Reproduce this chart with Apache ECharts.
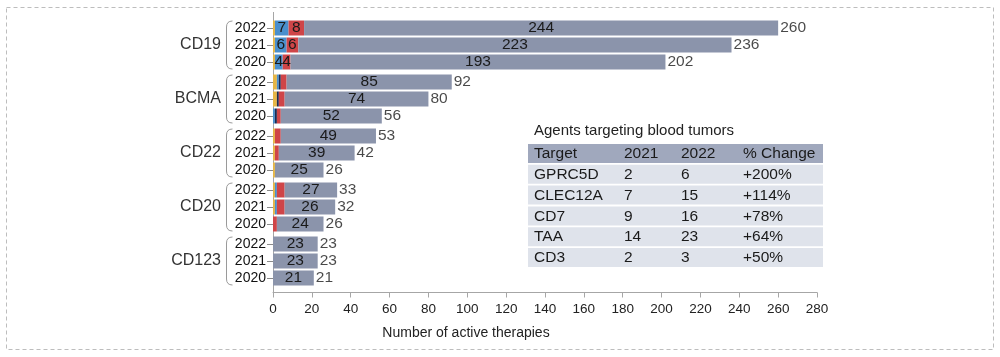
<!DOCTYPE html>
<html><head><meta charset="utf-8">
<script src="https://cdn.jsdelivr.net/npm/echarts@6/dist/echarts.min.js"></script>
<style>html,body{margin:0;padding:0;background:#fff}#c{width:1000px;height:357px}</style>
</head><body><div id="c"></div>
<script>
const groups = ['CD19','BCMA','CD22','CD20','CD123'];
const years = ['2022','2021','2020'];
const yellowVals = [[1,1,1],[2,2,0],[1,1,1],[1,1,0],[0,0,0]];
const blueVals   = [[7,6,4],[1,0,1],[0,0,0],[1,1,0],[0,0,0]];
const navyVals   = [[0,0,0],[1,1,1],[0,0,0],[0,0,0],[0,0,0]];
const redVals    = [[8,6,4],[3,3,2],[3,2,0],[4,4,2],[0,0,0]];
const grayVals   = [[244,223,193],[85,74,52],[49,39,25],[27,26,24],[23,23,21]];
const totals     = [[260,236,202],[92,80,56],[53,42,26],[33,32,26],[23,23,21]];
const xTicks = {min:0, max:280, interval:20};
const axisTitle = 'Number of active therapies';
const labelledGroup = 'CD19';

const tableTitle = 'Agents targeting blood tumors';
const tableHeader = ['Target','2021','2022','% Change'];
const tableTargets = ['GPRC5D','CLEC12A','CD7','TAA','CD3'];
const table2021 = [2,7,9,14,2];
const table2022 = [6,15,16,23,3];
const tableChange = ['+200%','+114%','+78%','+64%','+50%'];

const FONT = '"Liberation Sans", Arial, sans-serif';
const colors = {yellow:'#e6b646', blue:'#4a8fcc', navy:'#1c2b52', red:'#cf4548', gray:'#8b94ab'};
const chart = echarts.init(document.getElementById('c'), null, {renderer:'canvas'});

const gridTop0 = 19.5, gridPitch = 54, gridH = 51, gridLeft = 273, gridRight = 183;
const grids = [], xAxes = [], yAxes = [], series = [];
groups.forEach((g, gi) => {
  grids.push({left: gridLeft, right: gridRight, top: gridTop0 + gi*gridPitch, height: gridH});
  const last = gi === groups.length - 1;
  xAxes.push({type:'value', gridIndex: gi, min: xTicks.min, max: xTicks.max, interval: xTicks.interval,
    show: last, offset: 6,
    axisLine:{show:true, lineStyle:{color:'#a6a6a6', width:1}},
    axisTick:{show:true, length:5, lineStyle:{color:'#a6a6a6'}},
    axisLabel:{color:'#222', fontSize:13.5, fontFamily:FONT, margin:10},
    splitLine:{show:false}});
  yAxes.push({type:'category', gridIndex: gi, data: years, inverse: true,
    axisLine:{show:false},
    axisTick:{show:true, alignWithLabel:true, length:6, lineStyle:{color:'#8a8a8a'}},
    axisLabel:{color:'#111', fontSize:14, fontFamily:FONT, margin:7, interval:0}});
  const isLab = g === labelledGroup;
  const mk = (name, vals, color, showLbl) => ({
    type:'bar', name, stack:'s'+gi, xAxisIndex:gi, yAxisIndex:gi,
    data: vals[gi], barWidth: 15, itemStyle:{color},
    label:{show:true, position:'inside', color:'#1a1a1a', fontSize:15.5, fontFamily:FONT,
      formatter: p => (showLbl(p.value) ? String(p.value) : '')},
    silent:true, animation:false
  });
  series.push(mk('yellow', yellowVals, colors.yellow, v => false));
  series.push(mk('blue', blueVals, colors.blue, v => isLab && v > 0));
  series.push(mk('navy', navyVals, colors.navy, v => false));
  series.push(mk('red', redVals, colors.red, v => isLab && v > 0));
  series.push(mk('gray', grayVals, colors.gray, v => v > 0));
  series.push({type:'scatter', xAxisIndex:gi, yAxisIndex:gi, symbolSize:0,
    data: totals[gi].map((t, i) => [t, years[i]]),
    label:{show:true, position:'right', distance:2, color:'#1a1a1a', fontSize:15.5, fontFamily:FONT,
      formatter: p => String(p.value[0])}, silent:true, animation:false});
});

chart.setOption({
  animation:false,
  textStyle:{fontFamily:FONT},
  grid: grids, xAxis: xAxes, yAxis: yAxes, series
});

// decorations
const gfx = [];
gfx.push({type:'rect', shape:{x:6.5, y:7.5, width:987, height:342},
  style:{fill:null, stroke:'#bdbdbd', lineWidth:1, lineDash:[4,3]}, silent:true});
const topPix = chart.convertToPixel({xAxisIndex:0, yAxisIndex:0}, [0, years[0]]);
const botPix = chart.convertToPixel({xAxisIndex:groups.length-1, yAxisIndex:groups.length-1}, [0, years[2]]);
const x0 = topPix[0];
gfx.push({type:'line', shape:{x1:x0+0.5, y1:12, x2:x0+0.5, y2:botPix[1]+14}, style:{stroke:'#a6a6a6', lineWidth:1}, silent:true});
groups.forEach((g, gi) => {
  const a = chart.convertToPixel({xAxisIndex:gi, yAxisIndex:gi}, [0, years[0]]);
  const b = chart.convertToPixel({xAxisIndex:gi, yAxisIndex:gi}, [0, years[2]]);
  const yt = a[1]-7, yb = b[1]+7, bx = 226.5, bw = 6;
  const st = {stroke:'#9a9a9a', lineWidth:1, fill:null};
  gfx.push({type:'bezierCurve', silent:true, shape:{x1:bx+bw, y1:yt, x2:bx, y2:yt+6, cpx1:bx, cpy1:yt}, style:st});
  gfx.push({type:'line', silent:true, shape:{x1:bx, y1:yt+6, x2:bx, y2:yb-6}, style:st});
  gfx.push({type:'bezierCurve', silent:true, shape:{x1:bx, y1:yb-6, x2:bx+bw, y2:yb, cpx1:bx, cpy1:yb}, style:st});
  gfx.push({type:'text', silent:true, style:{text:g, x:221, y:(a[1]+b[1])/2, align:'right', verticalAlign:'middle',
    fill:'#333', font:`16px ${FONT}`}});
});
gfx.push({type:'text', silent:true, style:{text:axisTitle, x:466, y:333, align:'center', verticalAlign:'middle', fill:'#222', font:`14px ${FONT}`}});

// table
const tx = 528, tw = 295, colX = [534, 624, 681, 743];
gfx.push({type:'text', silent:true, style:{text:tableTitle, x:534, y:131, align:'left', verticalAlign:'middle', fill:'#222', font:`15px ${FONT}`}});
const rowTop0 = 144, rowPitch = 20.8, rowH = 19;
const rows = [tableHeader].concat(tableTargets.map((t, i) => [t, String(table2021[i]), String(table2022[i]), tableChange[i]]));
rows.forEach((r, ri) => {
  const y = rowTop0 + ri*rowPitch;
  gfx.push({type:'rect', silent:true, shape:{x:tx, y, width:tw, height:rowH}, style:{fill: ri===0 ? '#a0a8bd' : '#dfe3eb'}});
  r.forEach((cell, ci) => {
    gfx.push({type:'text', silent:true, style:{text:cell, x:colX[ci], y:y+rowH/2+0.5, align:'left', verticalAlign:'middle', fill:'#1a1a1a', font:`15.5px ${FONT}`}});
  });
});
chart.setOption({graphic: gfx});
</script></body></html>
